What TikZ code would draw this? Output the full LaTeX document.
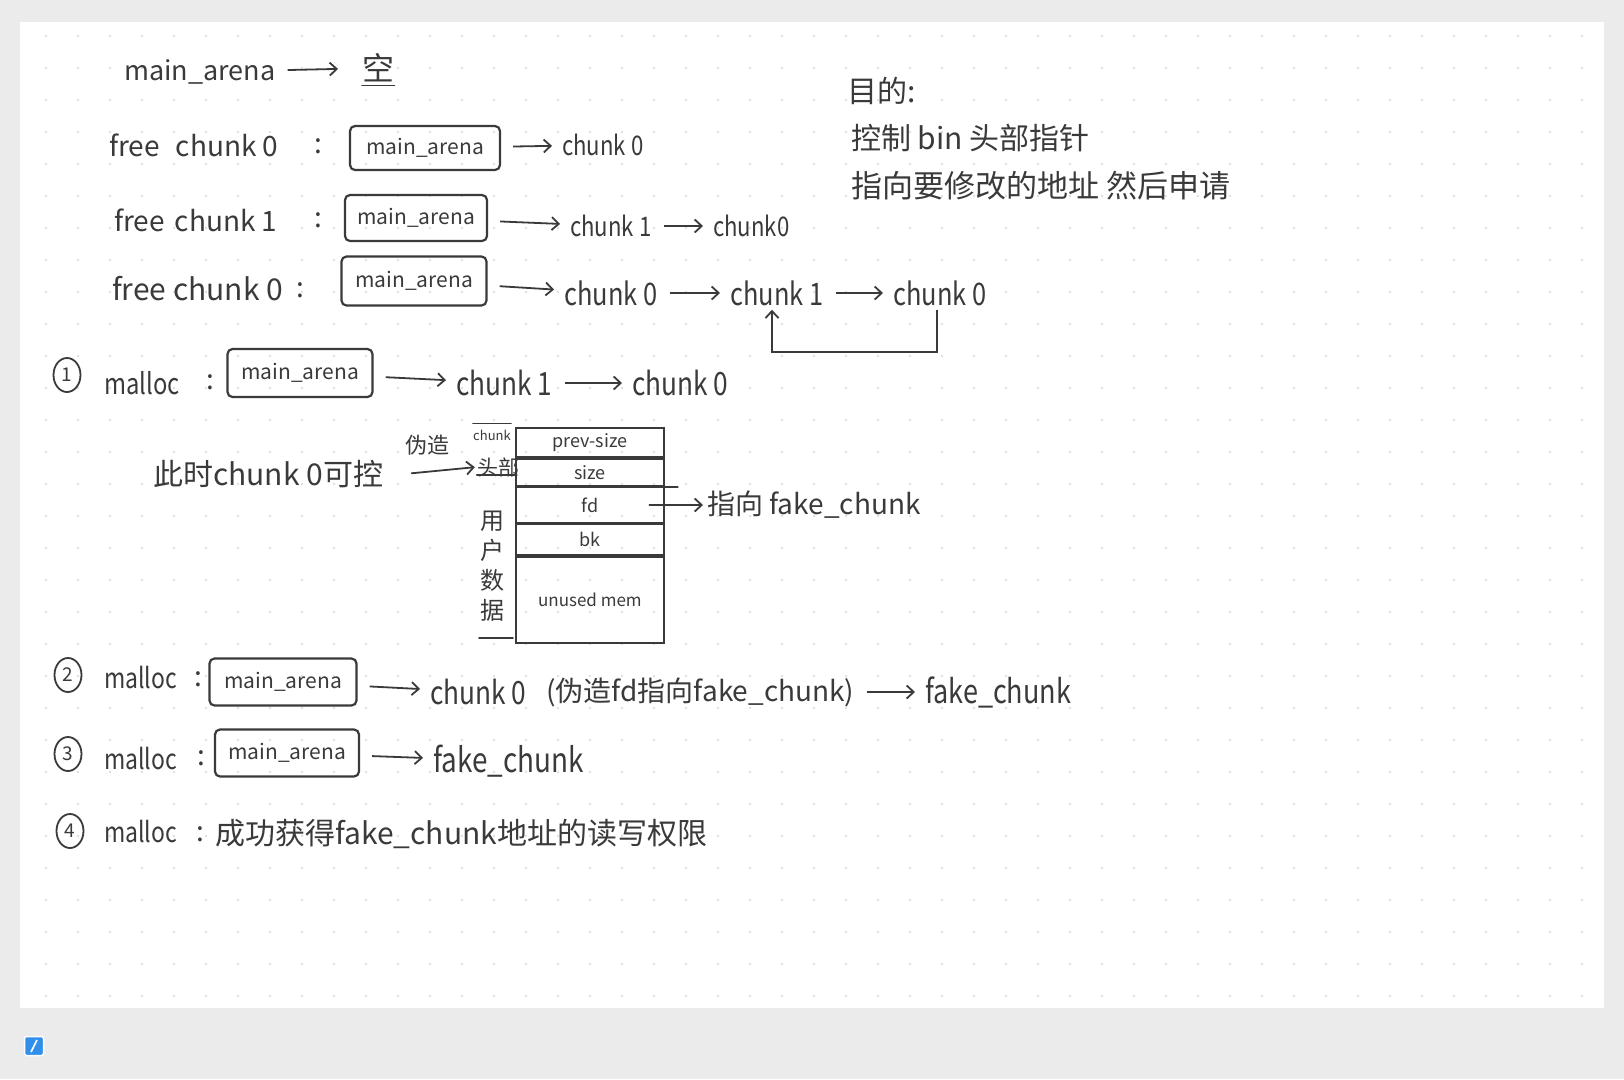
\documentclass[tikz,border=0pt]{standalone}
\usepackage{fontspec}
\setmainfont{Noto Sans CJK SC}
\newfontfamily\nar[FakeStretch=0.82]{Noto Sans CJK SC}
\usetikzlibrary{arrows.meta,shapes.geometric}
\definecolor{ink}{HTML}{3A3A3A}
\definecolor{bgray}{HTML}{EBEBEB}
\definecolor{dotc}{HTML}{D6D6D6}
\definecolor{iconblue}{HTML}{2F8FEA}
\begin{document}
\begin{tikzpicture}[x=1pt,y=-1pt,
  hw/.style={font=\fontsize{#1}{#1}\selectfont, text=ink, inner sep=0pt, anchor=west},
  hw/.default=28,
  nw/.style={font=\nar\fontsize{#1}{#1}\selectfont, text=ink, inner sep=0pt, anchor=west},
  ctr/.style={font=\fontsize{#1}{#1}\selectfont, text=ink, inner sep=0pt},
  arena/.style={draw=ink, line width=2.2pt, rounded corners=5pt, minimum width=#1,
    minimum height=44pt, font=\fontsize{21}{21}\selectfont, text=ink, inner sep=0pt},
  num/.style={ellipse, draw=ink, line width=1.8pt, minimum width=27pt, minimum height=34pt, inner sep=0pt,
    font=\fontsize{19}{19}\selectfont, text=ink},
  conn/.style={draw=ink, line width=1.8pt, -{Straight Barb[length=7pt,width=13pt]},
    shorten <=12pt, shorten >=10pt},
  rule/.style={draw=ink, line width=1.8pt, line cap=round},
  row/.style={draw=ink, line width=1.8pt, minimum width=148pt, minimum height=#1,
    inner sep=0pt, font=\fontsize{18}{18}\selectfont, text=ink}
]
\useasboundingbox (0,0) rectangle (1624,1079);
% background
\fill[bgray] (0,0) rectangle (1624,1079);
\fill[white] (20,22) rectangle (1604,1008);
\foreach \i in {0,...,48} {\foreach \j in {0,...,30} {\fill[dotc] (46+32*\i,36+32*\j) circle (1.1pt);}}
\node[fill=iconblue, draw=white, line width=1.5pt, minimum size=19pt, rounded corners=2pt, inner sep=0pt] (icon) at (34,1046) {};
\draw[white, line width=1.6pt] ([xshift=-3,yshift=-6]icon.center) -- ([xshift=3,yshift=6]icon.center);

% row 0
\node[hw=27] (ma0) at (124,72) {main\_arena};
\node[hw=32] (kong) at (362,68) {空};
\draw[conn, shorten >=24pt] (ma0) -- (kong);
\draw[rule] ([yshift=-3]kong.south west) -- ([yshift=-3]kong.south east);

% row 1
\node[hw=28] (f0) at (109,145) {free\hspace{16pt}chunk 0};
\node[hw=28] (col1) at (314,146) {:};
\node[arena=150] (b1) at (425,148) {main\_arena};
\node[nw=27] (r1c0) at (562,145) {chunk 0};
\draw[conn] (b1) -- (r1c0);

% row 2
\node[hw=28] (f1) at (114,220) {free\hspace{10pt}chunk 1};
\node[hw=28] (col2) at (314,220) {:};
\node[arena=142, minimum height=46pt] (b2) at (416,218) {main\_arena};
\node[nw=27] (r2c1) at (570,226) {chunk 1};
\node[nw=27] (r2c0) at (713,226) {chunk0};
\draw[conn] (b2) -- (r2c1);
\draw[conn] (r2c1) -- (r2c0);

% row 3
\node[hw=30] (f2) at (112,289) {free chunk 0};
\node[hw=28] (col3) at (296,290) {:};
\node[arena=145, minimum height=49pt] (b3) at (414,281) {main\_arena};
\node[nw=31] (r3a) at (564,293) {chunk 0};
\node[nw=31] (r3b) at (730,293) {chunk 1};
\node[nw=31] (r3c) at (893,293) {chunk 0};
\draw[conn] (b3) -- (r3a);
\draw[conn] (r3a) -- (r3b);
\draw[conn] (r3b) -- (r3c);
\coordinate (loopR) at (937,352);
\coordinate (loopL) at (772,352);
\draw[conn, shorten <=4pt, shorten >=4pt] (r3c.south -| loopR) -- (loopR) -- (loopL) -- (r3b.south -| loopL);

% goal text
\node[hw=30] (goal) at (847,91) {目的:};
\node[hw=30] (goal1) at (851,138) {控制 bin 头部指针};
\node[hw=31] (goal2) at (851,186) {指向要修改的地址 然后申请};

% step 1
\node[num] (n1) at (67,375) {1};
\node[nw=29] (m1) at (104,383) {malloc};
\node[hw=28] (col4) at (206,382) {:};
\node[arena=145, minimum height=48pt] (b4) at (300,373) {main\_arena};
\node[nw=32] (s1a) at (456,383) {chunk 1};
\node[nw=32] (s1b) at (632,383) {chunk 0};
\draw[conn] (b4) -- (s1a);
\draw[conn] (s1a) -- (s1b);

% chunk diagram
\node[hw=30] (ctrl) at (153,474) {此时chunk 0可控};
\node[hw=22] (forge) at (405,445) {伪造};
\node[ctr=13] (chk) at (492,435) {chunk};
\node[ctr=21] (head) at (498,467) {头部};
\draw[conn, shorten <=28pt, shorten >=2pt] (ctrl.east |- 0,476) -- (head.west);
\draw[rule] ([yshift=6]chk.north west) -- ([yshift=6]chk.north east);
\draw[rule] (head.south west) ++(0,-2) -- ++(40,0);
\node[row=29pt, anchor=north west] (rps) at (515,427) {prev-size};
\node[row=27pt, anchor=north] (rsz) at (rps.south) {size};
\node[row=35pt, anchor=north] (rfd) at (rsz.south) {fd};
\node[row=31pt, anchor=north] (rbk) at (rfd.south) {bk};
\node[row=86pt, anchor=north, font=\fontsize{17}{17}\selectfont] (run) at (rbk.south) {unused mem};
\draw[rule] (rsz.south east) -- ++(13,0);
\node[ctr=24, align=center, text width=26pt, font=\fontsize{24}{24}\selectfont] (user) at (492,566) {用\\[6pt]户\\[6pt]数\\[6pt]据};
\draw[rule] (run.south west) ++(-36,-6) -- ++(34,0);
\node[hw=28] (fake1) at (707,505) {指向 fake\_chunk};
\draw[conn, shorten <=0pt, shorten >=4pt] ([xshift=-16]rfd.east) -- (fake1.west);

% step 2
\node[num] (n2) at (68,675) {2};
\node[nw=28] (m2) at (104,678) {malloc};
\node[hw=28] (col5) at (194,679) {:};
\node[arena=147, minimum height=47pt] (b5) at (283,682) {main\_arena};
\node[nw=32] (s2a) at (430,692) {chunk 0};
\node[hw=28] (s2b) at (546,692) {(伪造fd指向fake\_chunk)};
\node[nw=33] (s2c) at (925,692) {fake\_chunk};
\draw[conn] (b5) -- (s2a);
\draw[conn] (s2b) -- (s2c);

% step 3
\node[num] (n3) at (68,754) {3};
\node[nw=28] (m3) at (104,759) {malloc};
\node[hw=28] (col6) at (197,758) {:};
\node[arena=144, minimum height=47pt] (b6) at (287,753) {main\_arena};
\node[nw=34] (s3a) at (433,761) {fake\_chunk};
\draw[conn] (b6) -- (s3a);

% step 4
\node[num] (n4) at (70,831) {4};
\node[nw=28] (m4) at (104,832) {malloc};
\node[hw=28] (col7) at (196,834) {:};
\node[hw=30] (s4) at (215,834) {成功获得fake\_chunk地址的读写权限};
\end{tikzpicture}
\end{document}
